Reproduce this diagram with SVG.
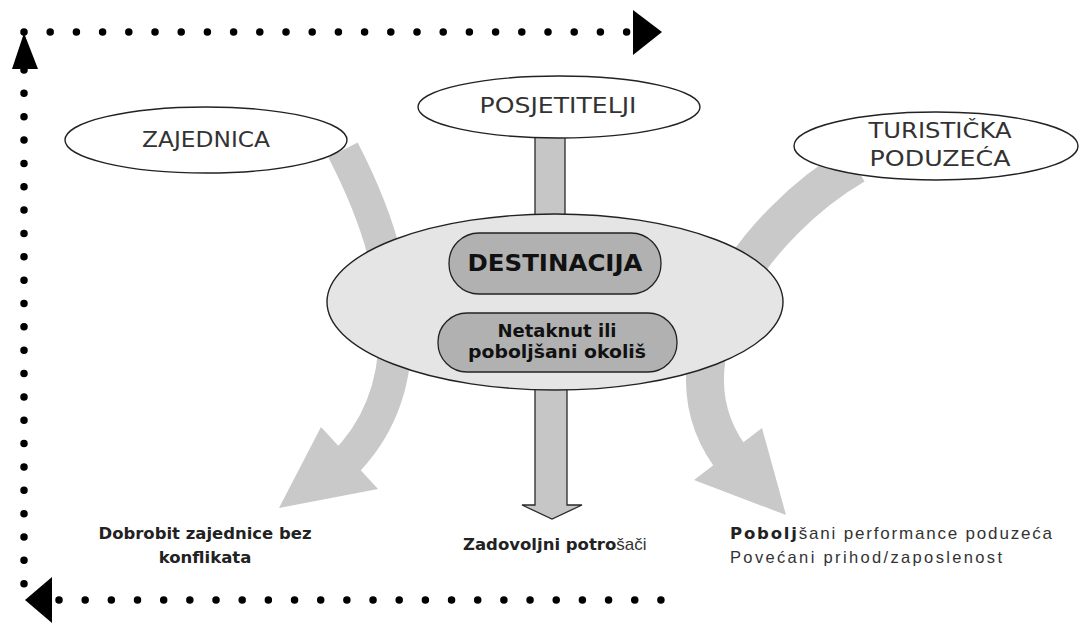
<svg xmlns="http://www.w3.org/2000/svg" width="1080" height="624" viewBox="0 0 1080 624">
<style>
.bg{fill:#ffffff}
.band{fill:none;stroke:#c9c9c9;stroke-linecap:butt}
.bandhead{fill:#c9c9c9;stroke:none}
.conn{fill:#c6c6c6;stroke:#2a2a2a;stroke-width:1.3}
.dots{fill:none;stroke:#000;stroke-width:7.5;stroke-linecap:round}
.head{fill:#000}
.oval{fill:#ffffff;stroke:#222;stroke-width:1.4}
.big{fill:#e5e5e5;stroke:#222;stroke-width:1.4}
.pill{fill:#b1b1b1;stroke:#222;stroke-width:1.3}
.lbl{font-family:"DejaVu Sans",Verdana,sans-serif;font-size:22px;fill:#333;text-anchor:middle}
.blbl{font-family:"DejaVu Sans",Verdana,sans-serif;font-weight:bold;fill:#111;text-anchor:middle}
.out{font-family:"DejaVu Sans",Verdana,sans-serif;font-weight:bold;font-size:16.5px;fill:#222}
.arial{font-family:"Liberation Sans",Arial,sans-serif;font-weight:normal;fill:#333}
</style>
<rect class="bg" x="0" y="0" width="1080" height="624"/>
<g id="connectors">
  <path class="band" d="M343,150 C 400,260 425,385 342,466" stroke-width="33"/>
  <polygon class="bandhead" points="321,427 378,489 279,508"/>
  <path class="band" d="M855,165 C 760,220 650,360 736,464" stroke-width="38"/>
  <polygon class="bandhead" points="694,480 762,428 786,515"/>
  <rect class="conn" x="535" y="130" width="30" height="90"/>
  <polygon class="conn" points="535,385 535,505 522,505 552,519 582,505 567,505 567,385"/>
  <line class="dots" x1="24" y1="32" x2="627" y2="32" stroke-dasharray="0 26.2"/>
  <polygon class="head" points="633,10 662,32 633,55"/>
  <line class="dots" x1="24" y1="70" x2="24" y2="584" stroke-dasharray="0 23.35"/>
  <polygon class="head" points="24,33 12,69 38,69"/>
  <line class="dots" x1="59" y1="600" x2="662" y2="600" stroke-dasharray="0 26.17"/>
  <polygon class="head" points="25,600 52,577 52,623"/>
</g>
<g id="zajednica">
  <ellipse class="oval" cx="206" cy="140" rx="141" ry="33"/>
  <text class="lbl" x="206" y="147" textLength="128" lengthAdjust="spacingAndGlyphs">ZAJEDNICA</text>
</g>
<g id="posjetitelji">
  <ellipse class="oval" cx="559" cy="107" rx="141" ry="31"/>
  <text class="lbl" x="558" y="113" textLength="157" lengthAdjust="spacingAndGlyphs">POSJETITELJI</text>
</g>
<g id="turisticka">
  <ellipse class="oval" cx="936" cy="146" rx="142" ry="34"/>
  <text class="lbl" x="940" y="138" textLength="143" lengthAdjust="spacingAndGlyphs">TURISTIČKA</text>
  <text class="lbl" x="940" y="166" textLength="141" lengthAdjust="spacingAndGlyphs">PODUZEĆA</text>
</g>
<g id="destinacija">
  <ellipse class="big" cx="555" cy="302" rx="228" ry="88"/>
  <rect class="pill" x="449" y="233" width="212" height="61" rx="30" ry="30"/>
  <text class="blbl" x="555" y="271" font-size="23" textLength="175" lengthAdjust="spacingAndGlyphs">DESTINACIJA</text>
</g>
<g id="okolis">
  <rect class="pill" x="438" y="313" width="239" height="59" rx="29" ry="29"/>
  <text class="blbl" x="557" y="337" font-size="18">Netaknut ili</text>
  <text class="blbl" x="557" y="358" font-size="18" textLength="178" lengthAdjust="spacingAndGlyphs">poboljšani okoliš</text>
</g>
<g id="dobrobit">
  <text class="out" x="205" y="539" text-anchor="middle" textLength="213" lengthAdjust="spacingAndGlyphs">Dobrobit zajednice bez</text>
  <text class="out" x="205" y="563" text-anchor="middle">konflikata</text>
</g>
<g id="zadovoljni">
  <text class="out" x="463" y="550">Zadovoljni potro<tspan class="arial" font-size="17">šači</tspan></text>
</g>
<g id="poboljsani">
  <text class="out" x="730" y="539" textLength="322" lengthAdjust="spacing">Pobolj<tspan class="arial" font-size="17">šani performance poduzeća</tspan></text>
  <text class="out arial" x="730" y="563" font-size="17" textLength="272" lengthAdjust="spacing">Povećani prihod/zaposlenost</text>
</g>
</svg>
